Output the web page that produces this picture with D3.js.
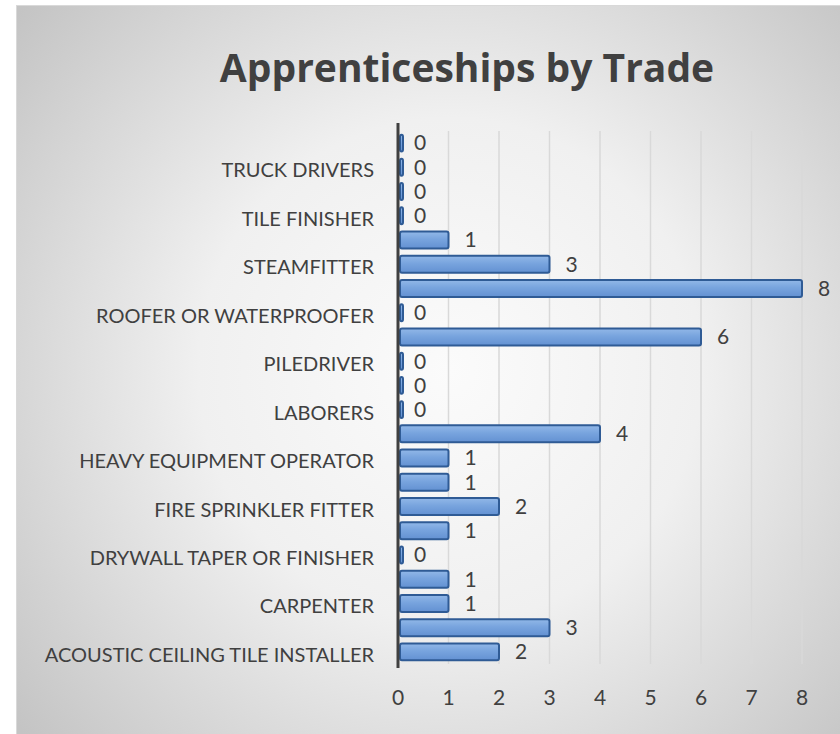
<!DOCTYPE html>
<html lang="en">
<head>
  <meta charset="UTF-8">
  <title>Apprenticeships by Trade</title>
  <style>
    body { margin: 0; padding: 0; background: #fff; }
    svg { display: block; }
    text { font-family: Lato, "Open Sans", sans-serif; fill: #404040; }
    .title { font-family: "Open Sans", Lato, sans-serif; font-weight: bold; }
  </style>
</head>
<body>
  <svg id="chart" width="840" height="734"></svg>

  <script src="https://d3js.org/d3.v7.min.js"></script>
  <script>
  (function(){
    // bottom to top, as in the spreadsheet
    const trades = [
      "ACOUSTIC CEILING TILE INSTALLER", "BRICKLAYER", "CARPENTER", "CEMENT MASON",
      "DRYWALL TAPER OR FINISHER", "ELECTRICIAN", "FIRE SPRINKLER FITTER", "GLAZIER",
      "HEAVY EQUIPMENT OPERATOR", "IRONWORKER", "LABORERS", "MILLWRIGHT",
      "PILEDRIVER", "PLUMBER", "ROOFER OR WATERPROOFER", "SHEET METAL WORKER",
      "STEAMFITTER", "TERRAZZO WORKER", "TILE FINISHER", "TILE SETTER",
      "TRUCK DRIVERS", "WELDER"
    ];
    const counts = [2, 3, 1, 1, 0, 1, 2, 1, 1, 4, 0, 0, 0, 6, 0, 8, 3, 1, 0, 0, 0, 0];
    const xTicks = [0, 1, 2, 3, 4, 5, 6, 7, 8];

    const data = trades.map((t, i) => ({ trade: t, value: counts[i] }));

    const svg = d3.select("#chart");
    const defs = svg.append("defs");

    // chart area background
    const bg = defs.append("radialGradient")
      .attr("id", "bg").attr("gradientUnits", "userSpaceOnUse")
      .attr("cx", 450).attr("cy", 370).attr("r", 560);
    bg.append("stop").attr("offset", "0%").attr("stop-color", "#fbfbfb");
    bg.append("stop").attr("offset", "45%").attr("stop-color", "#f0f0f0");
    bg.append("stop").attr("offset", "100%").attr("stop-color", "#c4c4c4");

    const barGrad = defs.append("linearGradient")
      .attr("id", "bar").attr("x1", 0).attr("y1", 0).attr("x2", 0).attr("y2", 1);
    barGrad.append("stop").attr("offset", "0%").attr("stop-color", "#92b8e8");
    barGrad.append("stop").attr("offset", "45%").attr("stop-color", "#78a4de");
    barGrad.append("stop").attr("offset", "100%").attr("stop-color", "#6391d2");

    svg.append("rect")
      .attr("x", 16.5).attr("y", 5.5)
      .attr("width", 840).attr("height", 740)
      .attr("fill", "url(#bg)")
      .attr("stroke", "#d9d9d9");

    svg.append("text")
      .attr("class", "title")
      .attr("x", 467).attr("y", 82)
      .attr("text-anchor", "middle")
      .style("font-size", "39px")
      .text("Apprenticeships by Trade");

    const x = d3.scaleLinear().domain([0, 8]).range([398, 802]);
    const y = d3.scaleBand()
      .domain(trades)
      .range([664, 131])
      .paddingInner(0.3)
      .paddingOuter(0.15);

    // gridlines
    svg.append("g")
      .selectAll("line")
      .data(xTicks.slice(1))
      .join("line")
        .attr("x1", d => x(d)).attr("x2", d => x(d))
        .attr("y1", 131).attr("y2", 664)
        .attr("stroke", "#d9d9d9")
        .attr("stroke-width", 1.5);

    // x tick labels
    svg.append("g")
      .selectAll("text")
      .data(xTicks)
      .join("text")
        .attr("x", d => x(d))
        .attr("y", 698)
        .attr("dy", "0.35em")
        .attr("text-anchor", "middle")
        .style("font-size", "21px")
        .text(d => d);

    // bars
    svg.append("g")
      .selectAll("rect")
      .data(data)
      .join("rect")
        .attr("x", x(0) + 2)
        .attr("y", d => y(d.trade))
        .attr("width", d => Math.max(3, x(d.value) - x(0) - 2))
        .attr("height", y.bandwidth())
        .attr("rx", 2)
        .attr("fill", "url(#bar)")
        .attr("stroke", "#2f5b95")
        .attr("stroke-width", 2);

    // value labels
    svg.append("g")
      .selectAll("text")
      .data(data)
      .join("text")
        .attr("x", d => x(d.value) + 22)
        .attr("y", d => y(d.trade) + y.bandwidth() / 2)
        .attr("dy", "0.35em")
        .attr("text-anchor", "middle")
        .style("font-size", "21px")
        .text(d => d.value);

    // category labels, every other one like Excel's auto skip
    svg.append("g")
      .selectAll("text")
      .data(trades.filter((t, i) => i % 2 === 0))
      .join("text")
        .attr("x", 374)
        .attr("y", d => y(d) + y.bandwidth() / 2 + 3)
        .attr("dy", "0.35em")
        .attr("text-anchor", "end")
        .style("font-size", "20px")
        .text(d => d);

    // category axis line
    svg.append("line")
      .attr("x1", x(0)).attr("x2", x(0))
      .attr("y1", 123).attr("y2", 668)
      .attr("stroke", "#404040")
      .attr("stroke-width", 3);
  })();
  </script>
</body>
</html>
